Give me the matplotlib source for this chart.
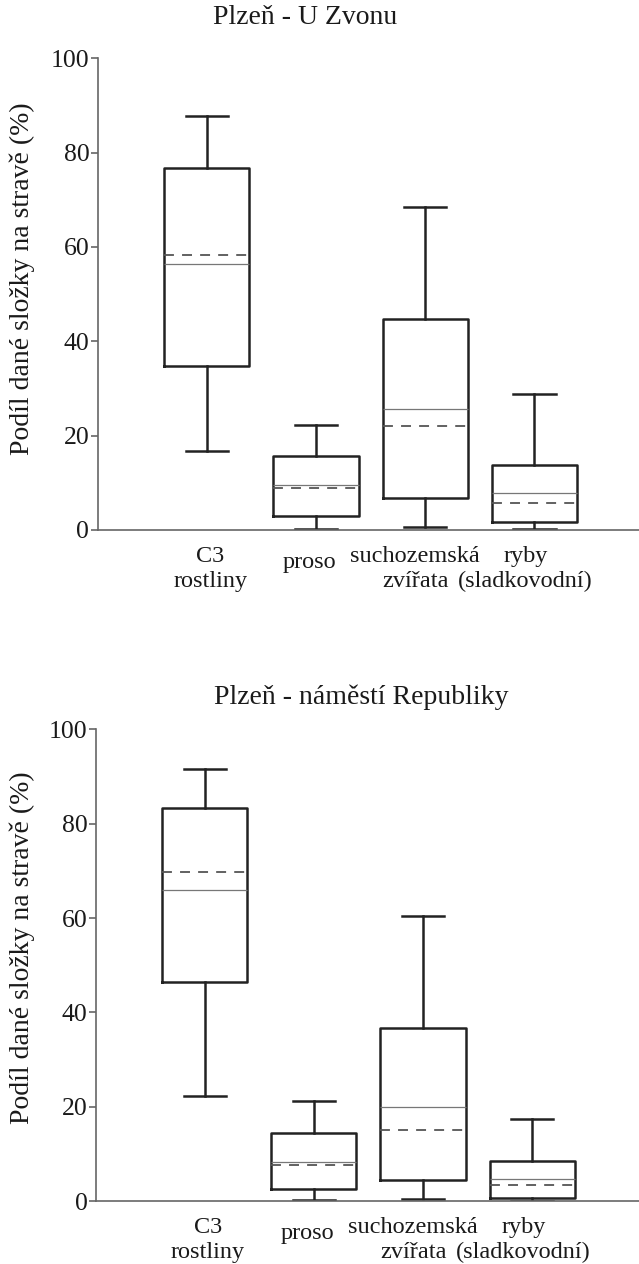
import matplotlib
matplotlib.use("Agg")
import matplotlib.pyplot as plt

# values (percent of diet)
categories = [("C3", "rostliny"), ("proso",), ("suchozemská", "zvířata"), ("ryby", "(sladkovodní)")]
titles = ["Plzeň - U Zvonu", "Plzeň - náměstí Republiky"]

zvonu_min = [16.7, 0.3, 0.7, 0.15]
zvonu_q1 = [34.8, 3.0, 6.7, 1.8]
zvonu_med = [56.4, 9.5, 25.6, 7.9]
zvonu_mean = [58.4, 9.0, 22.0, 5.7]
zvonu_q3 = [76.8, 15.7, 44.8, 13.8]
zvonu_max = [87.8, 22.3, 68.4, 28.8]

rep_min = [22.3, 0.2, 0.4, 0.1]
rep_q1 = [46.4, 2.5, 4.45, 0.6]
rep_med = [66.0, 8.3, 19.9, 4.7]
rep_mean = [69.8, 7.6, 15.1, 3.4]
rep_q3 = [83.3, 14.5, 36.7, 8.4]
rep_max = [91.5, 21.3, 60.4, 17.5]

plt.rcParams["font.family"] = ["Liberation Serif", "DejaVu Serif"]
TEXT = "#1a1a1a"
AXIS = "#666666"


def make_stats(lo, q1, med, mean, q3, hi):
    return [
        {"whislo": a, "q1": b, "med": c, "mean": d, "q3": e, "whishi": f, "fliers": []}
        for a, b, c, d, e, f in zip(lo, q1, med, mean, q3, hi)
    ]


def draw_panel(ax, stats, xmax, cap):
    ax.bxp(
        stats,
        positions=[1, 2, 3, 4],
        widths=0.78,
        capwidths=cap,
        showmeans=True,
        meanline=True,
        showfliers=False,
        boxprops=dict(color="#222222", linewidth=1.8),
        whiskerprops=dict(color="#222222", linewidth=1.8),
        capprops=dict(color="#222222", linewidth=1.8),
        medianprops=dict(color="#777777", linewidth=0.9),
        meanprops=dict(color="#555555", linewidth=1.3, linestyle=(0, (5.5, 4.5))),
    )
    ax.set_xlim(0, xmax)
    ax.set_ylim(0, 100)
    ax.set_yticks([0, 20, 40, 60, 80, 100])
    ax.set_xticks([])
    for side in ["top", "right"]:
        ax.spines[side].set_visible(False)
    for side in ["left", "bottom"]:
        ax.spines[side].set_color(AXIS)
        ax.spines[side].set_linewidth(1.2)
    ax.tick_params(axis="y", length=5, width=1.2, color=AXIS, labelsize=18.5,
                   labelcolor=TEXT, pad=1)
    # category labels sit a little left of the boxes in the reference;
    # one text per line so the two-line labels keep their own widths
    for pos, lines in zip([1.03, 1.94, 2.91, 3.92], categories):
        offsets = [-27.4] if len(lines) == 1 else [-23.0, -41.0]
        for line, dy in zip(lines, offsets):
            ax.annotate(line, xy=(pos, 0), xycoords=("data", "axes fraction"),
                        xytext=(0, dy), textcoords="offset points",
                        ha="center", va="baseline", fontsize=17.5, color=TEXT)


fig = plt.figure(figsize=(6.39, 12.64), dpi=100)
ax_top = fig.add_axes([0.1529, 0.5807, 0.8471, 0.3732])
ax_bot = fig.add_axes([0.1498, 0.0498, 0.8502, 0.3732])

draw_panel(ax_top, make_stats(zvonu_min, zvonu_q1, zvonu_med, zvonu_mean, zvonu_q3, zvonu_max),
           4.96, 0.39)
draw_panel(ax_bot, make_stats(rep_min, rep_q1, rep_med, rep_mean, rep_q3, rep_max),
           4.98, 0.38)

fig.text(305 / 639, 1 - 17 / 1264, titles[0], ha="center", va="center", fontsize=20, color=TEXT)
fig.text(361 / 639, 1 - 697 / 1264, titles[1], ha="center", va="center", fontsize=20, color=TEXT)

ylabel = "Podíl dané složky na stravě (%)"
fig.text(22 / 639, 1 - 278.5 / 1264, ylabel, rotation=90, ha="center", va="center",
         fontsize=20, color=TEXT)
fig.text(22 / 639, 1 - 947.3 / 1264, ylabel, rotation=90, ha="center", va="center",
         fontsize=20, color=TEXT)

fig.savefig("out.png", dpi=100)
